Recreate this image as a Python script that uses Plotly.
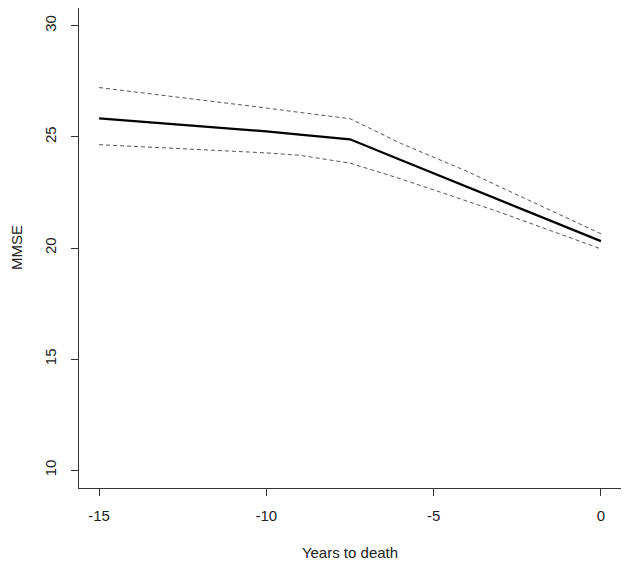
import plotly.graph_objects as go

years = [-15, -12, -10, -9, -7.5, -6, -4, -3, 0]
mmse_fit = [25.83, 25.49, 25.25, 25.10, 24.89, 23.97, 22.75, 22.15, 20.31]
mmse_upper = [27.22, 26.68, 26.30, 26.10, 25.82, 24.72, 23.45, 22.74, 20.64]
mmse_lower = [24.65, 24.44, 24.28, 24.17, 23.82, 23.12, 22.12, 21.60, 19.96]

x_ticks = [-15, -10, -5, 0]
y_ticks = [10, 15, 20, 25, 30]

font_family = "Liberation Sans, Arial, sans-serif"

fig = go.Figure()
fig.add_trace(go.Scatter(x=years, y=mmse_upper, mode="lines",
                         line=dict(color="#555555", width=1, dash="4px,3px"),
                         showlegend=False, hoverinfo="skip"))
fig.add_trace(go.Scatter(x=years, y=mmse_lower, mode="lines",
                         line=dict(color="#555555", width=1, dash="4px,3px"),
                         showlegend=False, hoverinfo="skip"))
fig.add_trace(go.Scatter(x=years, y=mmse_fit, mode="lines",
                         line=dict(color="black", width=2.2),
                         showlegend=False))

# page body has an 8px margin, so the figure is sized/offset to compensate
fig.update_layout(
    width=621, height=559,
    margin=dict(l=71, r=8, t=0, b=79, autoexpand=False),
    paper_bgcolor="white", plot_bgcolor="white",
    font=dict(family=font_family, size=15, color="#222222"),
)
fig.update_xaxes(
    range=[-15.6, 0.6], tickvals=x_ticks, ticktext=[str(v) for v in x_ticks],
    showgrid=False, zeroline=False, automargin=False,
    showline=True, linecolor="#333333", linewidth=1, mirror=True,
    ticks="outside", ticklen=7, tickcolor="#333333", tickwidth=1,
    ticklabelstandoff=7,
    title=dict(text="Years to death", standoff=24, font=dict(size=15)),
)
fig.update_yaxes(
    range=[9.2, 30.8], tickvals=y_ticks, ticktext=[str(v) for v in y_ticks],
    showgrid=False, zeroline=False, automargin=False,
    showline=True, linecolor="#333333", linewidth=1, mirror=True,
    ticks="outside", ticklen=7, tickcolor="#333333", tickwidth=1,
    tickangle=-90, ticklabelstandoff=9,
)
fig.add_annotation(
    text="MMSE", xref="paper", yref="paper", x=0, y=0.5,
    xanchor="center", yanchor="middle", textangle=-90, xshift=-63,
    showarrow=False, borderpad=0, font=dict(size=15, color="#222222"),
)

fig.write_html("out.html")
